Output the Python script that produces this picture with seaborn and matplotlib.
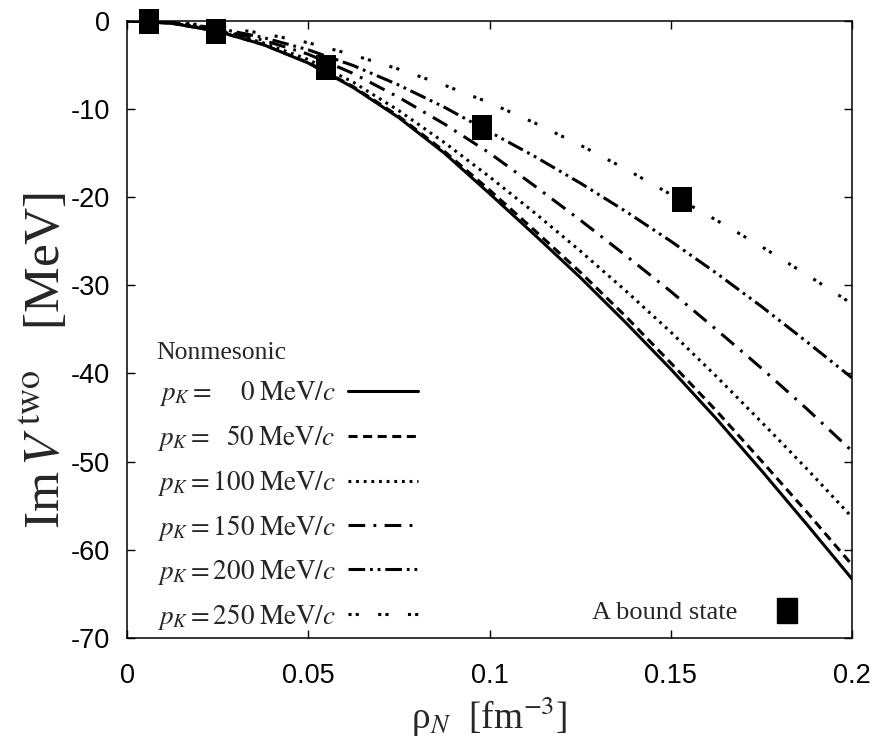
import matplotlib
matplotlib.use("Agg")
import matplotlib.pyplot as plt
import seaborn as sns
from matplotlib.lines import Line2D

# ---------------- data ----------------
rho = [0.0, 0.0125, 0.025, 0.0375, 0.05, 0.0625, 0.075, 0.0875, 0.1,
       0.1125, 0.125, 0.1375, 0.15, 0.1625, 0.175, 0.1875, 0.2]

imv_p0 = [0.0, -0.3, -1.2, -2.7, -4.8, -7.6, -11.0, -15.0, -19.6,
          -24.3, -29.1, -34.2, -39.5, -45.1, -51.0, -57.1, -63.3]
imv_p50 = [0.0, -0.3, -1.2, -2.7, -4.75, -7.5, -10.85, -14.8, -19.2,
           -23.8, -28.5, -33.5, -38.8, -44.2, -49.9, -55.7, -61.7]
imv_p100 = [0.0, -0.28, -1.1, -2.5, -4.4, -7.0, -10.2, -13.8, -17.7,
            -21.8, -26.1, -30.6, -35.3, -40.3, -45.5, -50.8, -56.3]
imv_p150 = [0.0, -0.25, -1.0, -2.2, -3.8, -6.0, -8.7, -11.7, -15.0,
            -18.75, -22.6, -26.6, -30.7, -35.0, -39.4, -44.0, -48.8]
imv_p200 = [0.0, -0.2, -0.85, -1.9, -3.3, -5.1, -7.3, -9.8, -12.6,
            -15.4, -18.4, -21.6, -25.0, -28.6, -32.4, -36.4, -40.5]
imv_p250 = [0.0, -0.15, -0.65, -1.45, -2.5, -3.9, -5.5, -7.3, -9.3,
            -11.6, -14.1, -16.8, -19.7, -22.6, -25.6, -28.8, -32.1]

momenta = [0, 50, 100, 150, 200, 250]
series = [imv_p0, imv_p50, imv_p100, imv_p150, imv_p200, imv_p250]

bound_rho = [0.006, 0.0245, 0.055, 0.098, 0.153]
bound_imv = [-0.1, -1.2, -5.3, -12.1, -20.3]

xticks = [0, 0.05, 0.1, 0.15, 0.2]
xticklabels = ["0", "0.05", "0.1", "0.15", "0.2"]
yticks = [0, -10, -20, -30, -40, -50, -60, -70]
yticklabels = ["0", "-10", "-20", "-30", "-40", "-50", "-60", "-70"]

# ---------------- style ----------------
sns.set_theme(style="ticks")
plt.rcParams["font.family"] = ["Liberation Serif", "DejaVu Serif"]
plt.rcParams["mathtext.fontset"] = "stix"
plt.rcParams["lines.scale_dashes"] = False

dash_styles = [
    "-",
    (0, (6.5, 4.0)),
    (0, (2.0, 3.5)),
    (0, (12.0, 6.0, 2.0, 6.0)),
    (0, (12.0, 3.5, 2.0, 3.5, 2.0, 3.5)),
    (0, (2.2, 3.0, 2.2, 14.0)),
]

fig = plt.figure(figsize=(8.96, 7.52), dpi=100)
ax = fig.add_axes([127 / 896, 1 - 638 / 752, (852 - 127) / 896, (638 - 20.7) / 752])

handles = []
for vals, ls in zip(series, dash_styles):
    sns.lineplot(x=rho, y=vals, ax=ax, color="black", lw=2.2, linestyle=ls)
    handles.append(ax.lines[-1])

rect = [(-0.8, -1), (0.8, -1), (0.8, 1), (-0.8, 1), (-0.8, -1)]
sns.scatterplot(x=bound_rho, y=bound_imv, ax=ax, marker=rect, s=18 ** 2,
                color="black", edgecolor="none", linewidth=0, zorder=5,
                clip_on=False)

ax.set_xlim(0, 0.2)
ax.set_ylim(-70, 0)
ax.set_xticks(xticks)
ax.set_xticklabels(xticklabels)
ax.set_yticks(yticks)
ax.set_yticklabels(yticklabels)
ax.tick_params(direction="in", length=6, width=1.0, top=True, right=True,
               labelsize=19.5, color="black", labelcolor="black")
ax.tick_params(axis="y", pad=12)
ax.tick_params(axis="x", pad=18)
for lab in ax.get_xticklabels() + ax.get_yticklabels():
    lab.set_fontfamily(["Liberation Sans", "DejaVu Sans"])
for sp in ax.spines.values():
    sp.set_linewidth(1.1)
    sp.set_color("black")

ax.set_xlabel(r"ρ$_N$  [fm$^{-3}$]", fontsize=27, labelpad=4)
ax.set_ylabel(r"Im$\,V^{\,\mathrm{two}}$   [MeV]", fontsize=37)
ax.yaxis.set_label_coords(-0.078, 0.45)

labels = [
    r"$p_K = \enspace\enspace\; 0\;\mathrm{MeV}/c$",
    r"$p_K = \enspace\, 50\;\mathrm{MeV}/c$",
    r"$p_K = 100\;\mathrm{MeV}/c$",
    r"$p_K = 150\;\mathrm{MeV}/c$",
    r"$p_K = 200\;\mathrm{MeV}/c$",
    r"$p_K = 250\;\mathrm{MeV}/c$",
]
leg1 = ax.legend(handles, labels, title="Nonmesonic", alignment="left",
                 loc="upper left", bbox_to_anchor=(0.041, 0.479),
                 frameon=False, markerfirst=False, fontsize=19.5,
                 title_fontsize=18.5, handlelength=2.6, handletextpad=0.45,
                 labelspacing=0.55, borderpad=0, borderaxespad=0)
ax.add_artist(leg1)

sq = Line2D([], [], marker=rect, ms=18, color="black", ls="none")
ax.legend([sq], ["A bound state"], loc="lower right",
          bbox_to_anchor=(0.929, 0.022), frameon=False, markerfirst=False,
          fontsize=19, handlelength=1.0, handletextpad=1.4,
          borderpad=0, borderaxespad=0)

fig.savefig("out.png", dpi=100)
